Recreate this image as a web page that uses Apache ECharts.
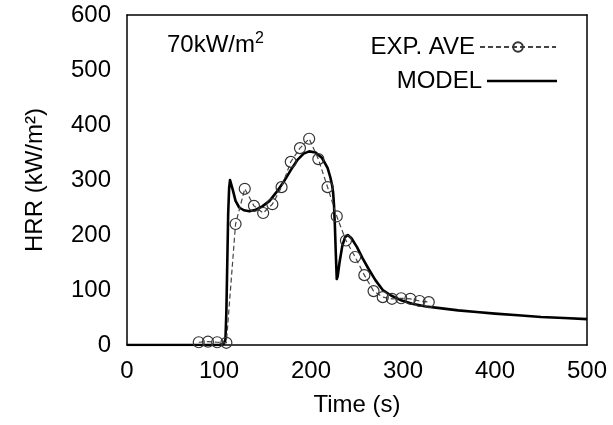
<!DOCTYPE html>
<html>
<head>
<meta charset="utf-8">
<script src="https://cdn.jsdelivr.net/npm/echarts@6/dist/echarts.min.js"></script>
<style>
html,body{margin:0;padding:0;background:#fff;}
#wrap{position:relative;width:613px;height:425px;}
#frame,#chart{position:absolute;left:0;top:0;width:613px;height:425px;}
#frame{z-index:0;}
#chart{z-index:1;}
</style>
</head>
<body>
<div id="wrap"><div id="frame"></div><div id="chart"></div></div>
<script>
// Experimental average
var expT = [78, 88, 98, 108, 118, 128, 138, 148, 158, 168, 178, 188, 198, 208, 218, 228, 238, 248, 258, 268, 278, 288, 298, 308, 318, 328];
var expV = [5, 6, 5, 4, 220, 284, 253, 240, 256, 287, 333, 358, 375, 338, 287, 234, 190, 160, 127, 98, 87, 84, 85, 84, 80, 78];
// Model
var modelT = [0, 100, 105, 107, 108, 109, 110, 111, 112, 113, 115, 118, 122, 127, 133, 140, 147, 155, 162, 170, 178, 185, 192, 198, 205, 212, 218, 221, 223, 224, 225, 226, 227, 228, 229, 231, 234, 237, 240, 244, 250, 256, 262, 270, 278, 287, 297, 310, 325, 340, 360, 380, 400, 425, 450, 475, 500];
var modelV = [0, 0, 2, 10, 60, 150, 240, 285, 300, 298, 282, 262, 250, 245, 243, 246, 252, 262, 277, 296, 318, 336, 348, 352, 350, 340, 322, 305, 290, 278, 255, 215, 165, 120, 125, 150, 180, 196, 200, 194, 178, 158, 140, 118, 100, 90, 82, 75, 70, 67, 63, 60, 57, 54, 51, 49, 47];
var xTicks = [0, 100, 200, 300, 400, 500];
var yTicks = [0, 100, 200, 300, 400, 500, 600];

var FONT = 'Liberation Sans, Arial, sans-serif';
var FS = 24;
var expData = expT.map(function (t, i) { return [t, expV[i]]; });
var modelData = modelT.map(function (t, i) { return [t, modelV[i]]; });
var GRID = {left: 127, right: 26, top: 15, bottom: 80};
function gridBox() { return {left: GRID.left, right: GRID.right, top: GRID.top, bottom: GRID.bottom}; }
function blank() { return ''; }

// Layer 1: frame axes with inside ticks on all four sides
function frameAxis(kind, pos, ticks, step) {
  return {
    type: 'value', min: ticks[0], max: ticks[ticks.length - 1], interval: step,
    position: pos,
    axisLine: {show: true, onZero: false, lineStyle: {color: '#000', width: 1.5}},
    axisTick: {show: true, inside: true, length: 8, lineStyle: {color: '#000', width: 1.5}},
    splitLine: {show: false},
    axisLabel: {show: true, formatter: blank}
  };
}
var frame = echarts.init(document.getElementById('frame'));
frame.setOption({
  animation: false,
  grid: gridBox(),
  xAxis: [frameAxis('x', 'bottom', xTicks, 100), frameAxis('x', 'top', xTicks, 100)],
  yAxis: [frameAxis('y', 'left', yTicks, 100), frameAxis('y', 'right', yTicks, 100)],
  series: [{type: 'line', data: modelData, symbol: 'none', silent: true,
            lineStyle: {opacity: 0}, itemStyle: {opacity: 0}}]
});

// Layer 2: labels, names, legend, data
var chart = echarts.init(document.getElementById('chart'));
chart.setOption({
  animation: false,
  backgroundColor: 'transparent',
  grid: gridBox(),
  xAxis: {
    type: 'value', min: xTicks[0], max: xTicks[xTicks.length - 1], interval: 100,
    position: 'bottom',
    axisLine: {show: false, onZero: false}, axisTick: {show: false}, splitLine: {show: false},
    axisLabel: {color: '#000', fontSize: FS, fontFamily: FONT, margin: 14},
    name: 'Time (s)', nameLocation: 'middle', nameGap: 48,
    nameTextStyle: {color: '#000', fontSize: FS, fontFamily: FONT}
  },
  yAxis: {
    type: 'value', min: yTicks[0], max: yTicks[yTicks.length - 1], interval: 100,
    position: 'left',
    axisLine: {show: false, onZero: false}, axisTick: {show: false}, splitLine: {show: false},
    axisLabel: {color: '#000', fontSize: FS, fontFamily: FONT, margin: 16},
    name: 'HRR (kW/m\u00B2)', nameLocation: 'middle', nameGap: 80, nameRotate: 90,
    nameTextStyle: {color: '#000', fontSize: FS, fontFamily: FONT}
  },
  legend: [{
    data: ['EXP. AVE'], orient: 'vertical', align: 'right', right: 51, top: 30,
    itemWidth: 76, itemHeight: 12,
    textStyle: {color: '#000', fontSize: FS, fontFamily: FONT},
    selectedMode: false
  }, {
    data: [{name: 'MODEL', icon: 'rect', itemStyle: {color: '#000'}}], orient: 'vertical', align: 'right', right: 51, top: 64,
    itemWidth: 70, itemHeight: 2.6,
    textStyle: {color: '#000', fontSize: FS, fontFamily: FONT},
    selectedMode: false
  }],
  graphic: [{
    type: 'text', left: 167, top: 31,
    style: {
      text: '{a|70kW/m}{s|2}',
      rich: {
        a: {fontSize: FS, fontFamily: FONT, fill: '#000'},
        s: {fontSize: 16, fontFamily: FONT, fill: '#000', padding: [0, 0, 12, 0]}
      }
    }
  }],
  series: [{
    name: 'EXP. AVE', type: 'line',
    data: expData,
    symbol: 'circle', symbolSize: 11, showSymbol: true,
    lineStyle: {color: '#444', width: 1.2, type: [5, 3]},
    itemStyle: {color: 'rgba(255,255,255,0)', borderColor: '#333', borderWidth: 1.2},
    z: 3
  }, {
    name: 'MODEL', type: 'line',
    data: modelData,
    symbol: 'none', showSymbol: false,
    lineStyle: {color: '#000', width: 2.6, join: 'round'},
    itemStyle: {color: '#000'},
    z: 2
  }]
});
</script>
</body>
</html>
